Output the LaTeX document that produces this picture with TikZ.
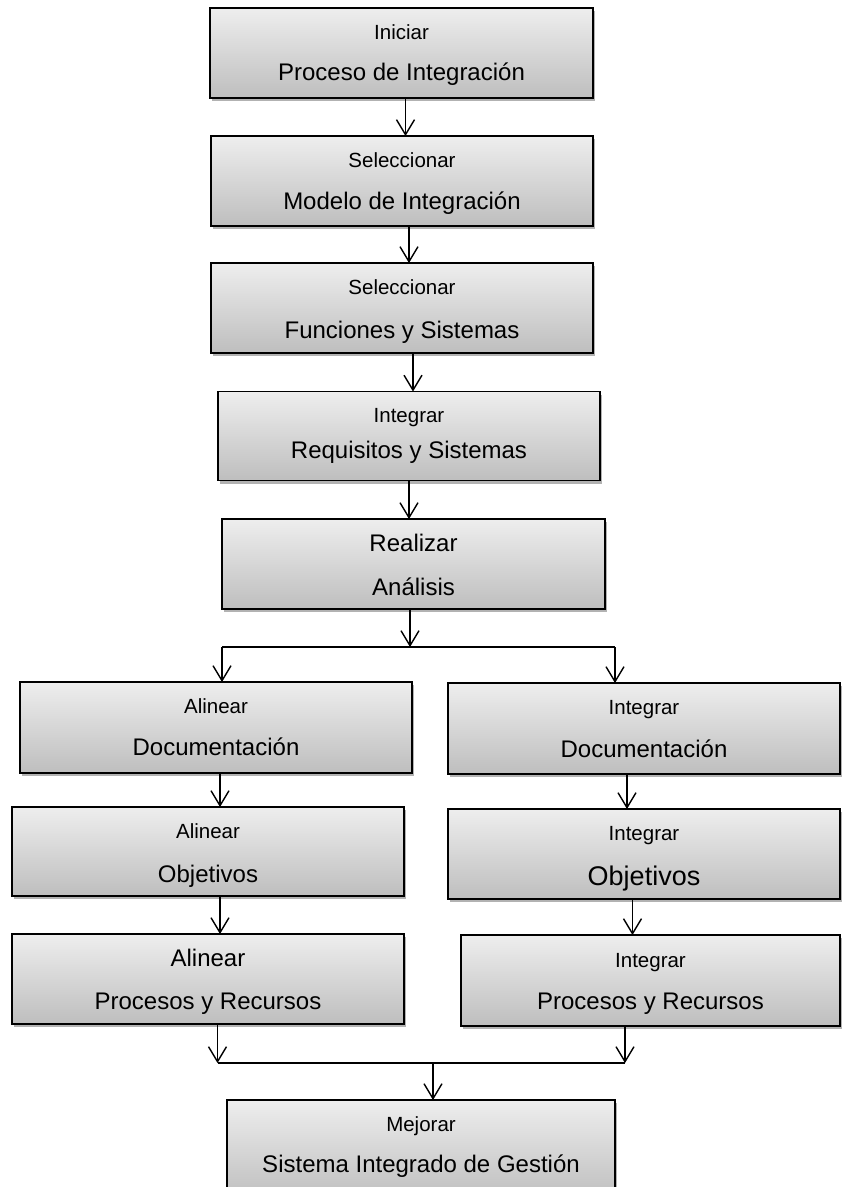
\documentclass[tikz,border=0pt]{standalone}
\usepackage{fontspec}
\setmainfont{Liberation Sans}
\usetikzlibrary{arrows.meta,shadows}
\definecolor{boxtop}{RGB}{238,238,238}
\definecolor{boxbot}{RGB}{190,190,190}
\tikzset{
  flowbox/.style={draw=black, line width=1.8pt, top color=boxtop, bottom color=boxbot,
    drop shadow={shadow xshift=1.5pt, shadow yshift=-3pt, opacity=0.3, fill=black},
    inner sep=0pt, outer sep=0pt},
  tsmall/.style={anchor=base, inner sep=0pt, font=\fontsize{20.5}{24}\selectfont},
  tbig/.style={anchor=base, inner sep=0pt, font=\fontsize{24}{28}\selectfont},
  tlarge/.style={anchor=base, inner sep=0pt, font=\fontsize{27}{31}\selectfont},
  flow/.style={line width=1.4pt, -{Straight Barb[length=15pt,width=18pt]}},
  link/.style={line width=1.4pt},
}
\begin{document}
\begin{tikzpicture}[x=1pt,y=-1pt]
  \fill[white] (0,0) rectangle (842,1187);
  \useasboundingbox (0,0) rectangle (842,1187);
  \clip (0,0) rectangle (842,1187);

  % main column
  \node[flowbox, minimum width=383pt, minimum height=90pt] (b1) at (401.5,53) {};
  \node[flowbox, minimum width=382pt, minimum height=90pt] (b2) at (402,181) {};
  \node[flowbox, minimum width=382pt, minimum height=90pt] (b3) at (402,308) {};
  \node[flowbox, minimum width=382pt, minimum height=89pt] (b4) at (409,436) {};
  \node[flowbox, minimum width=383pt, minimum height=90pt] (b5) at (413.5,564) {};

  % two branches
  \node[flowbox, minimum width=392pt, minimum height=91pt] (L1) at (216,727.5) {};
  \node[flowbox, minimum width=392pt, minimum height=91pt] (R1) at (644,728.5) {};
  \node[flowbox, minimum width=392pt, minimum height=89pt] (L2) at (208,851.5) {};
  \node[flowbox, minimum width=392pt, minimum height=90pt] (R2) at (644,854) {};
  \node[flowbox, minimum width=392pt, minimum height=90pt] (L3) at (208,979) {};
  \node[flowbox, minimum width=379pt, minimum height=91pt] (R3) at (650.5,980.5) {};

  % final box
  \node[flowbox, minimum width=388pt, minimum height=100pt] (B) at (421,1150) {};

  % labels
  \node[tsmall] (b1a) at ([yshift=-31pt]b1.north) {Iniciar};
  \node[tbig]   (b1b) at ([yshift=-72pt]b1.north) {Proceso de Integración};
  \node[tsmall] (b2a) at ([yshift=-31pt]b2.north) {Seleccionar};
  \node[tbig]   (b2b) at ([yshift=-73pt]b2.north) {Modelo de Integración};
  \node[tsmall] (b3a) at ([yshift=-31pt]b3.north) {Seleccionar};
  \node[tbig]   (b3b) at ([yshift=-75pt]b3.north) {Funciones y Sistemas};
  \node[tsmall] (b4a) at ([yshift=-31pt]b4.north) {Integrar};
  \node[tbig]   (b4b) at ([yshift=-67pt]b4.north) {Requisitos y Sistemas};
  \node[tbig]   (b5a) at ([yshift=-32pt]b5.north) {Realizar};
  \node[tbig]   (b5b) at ([yshift=-76pt]b5.north) {Análisis};

  \node[tsmall] (L1a) at ([yshift=-31pt]L1.north) {Alinear};
  \node[tbig]   (L1b) at ([yshift=-73pt]L1.north) {Documentación};
  \node[tsmall] (R1a) at ([yshift=-31pt]R1.north) {Integrar};
  \node[tbig]   (R1b) at ([yshift=-74pt]R1.north) {Documentación};
  \node[tsmall] (L2a) at ([yshift=-31pt]L2.north) {Alinear};
  \node[tbig]   (L2b) at ([yshift=-75pt]L2.north) {Objetivos};
  \node[tsmall] (R2a) at ([yshift=-31pt]R2.north) {Integrar};
  \node[tlarge] (R2b) at ([yshift=-76pt]R2.north) {Objetivos};
  \node[tbig]   (L3a) at ([yshift=-32pt]L3.north) {Alinear};
  \node[tbig]   (L3b) at ([yshift=-75pt]L3.north) {Procesos y Recursos};
  \node[tsmall] (R3a) at ([yshift=-32pt]R3.north) {Integrar};
  \node[tbig]   (R3b) at ([yshift=-74pt]R3.north) {Procesos y Recursos};

  \node[tsmall] (Ba) at ([yshift=-31pt]B.north) {Mejorar};
  \node[tbig]   (Bb) at ([yshift=-72pt]B.north) {Sistema Integrado de Gestión};

  % main column connectors
  \draw[flow] ([xshift=4pt]b1.south) -- ([xshift=4pt]b1.south |- b2.north);
  \draw[flow] ([xshift=7pt]b2.south) -- ([xshift=7pt]b2.south |- b3.north);
  \draw[flow] ([xshift=11pt]b3.south) -- ([xshift=11pt]b3.south |- b4.north);
  \draw[flow] (b4.south) -- (b4.south |- b5.north);

  % split into the two branches
  \coordinate (sp)  at (410,647);
  \coordinate (spl) at (222,647);
  \coordinate (spr) at (615,647);
  \draw[flow] (b5.south -| sp) -- (sp);
  \draw[link] (spl) -- (spr);
  \draw[flow] (spl) -- (spl |- L1.north);
  \draw[flow] (spr) -- (spr |- R1.north);

  % branch connectors
  \draw[flow] ([xshift=4pt]L1.south) -- ([xshift=4pt]L1.south |- L2.north);
  \draw[flow] ([xshift=-17pt]R1.south) -- ([xshift=-17pt]R1.south |- R2.north);
  \draw[flow] ([xshift=12pt]L2.south) -- ([xshift=12pt]L2.south |- L3.north);
  \draw[flow] ([xshift=-11.5pt]R2.south) -- ([xshift=-11.5pt]R2.south |- R3.north);

  % merge into the final box
  \coordinate (ml) at (217.5,1063);
  \coordinate (mr) at (625,1063);
  \coordinate (mm) at (433,1063);
  \draw[flow] (L3.south -| ml) -- (ml);
  \draw[flow] (R3.south -| mr) -- (mr);
  \draw[link] (ml) -- (mr);
  \draw[flow] (mm) -- (mm |- B.north);
\end{tikzpicture}
\end{document}
